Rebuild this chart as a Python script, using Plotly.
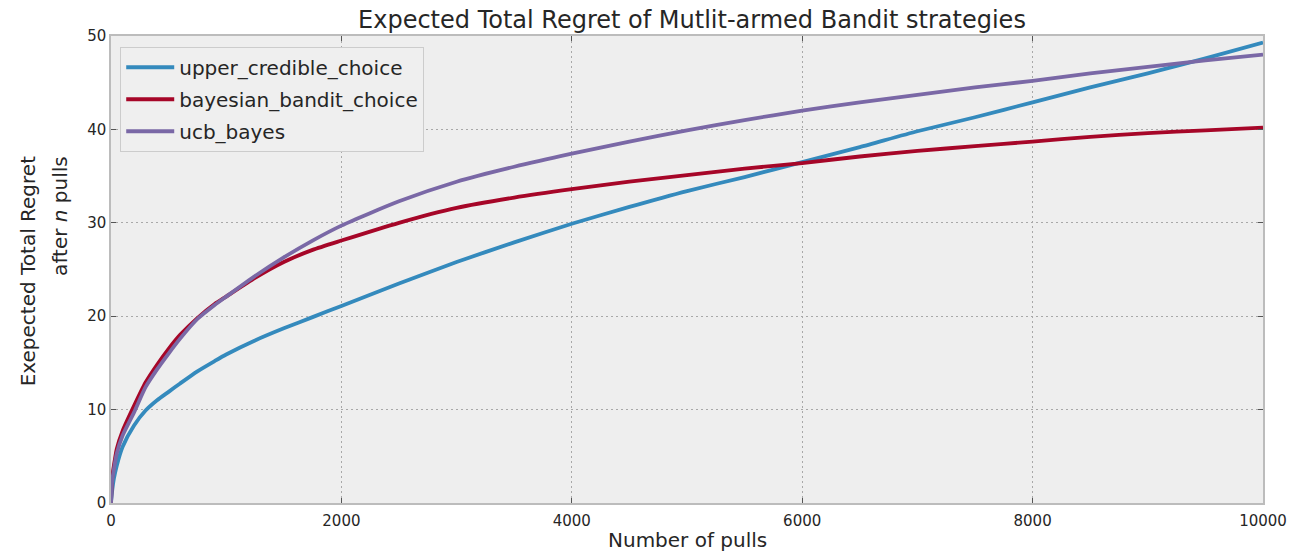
import plotly.graph_objects as go

pulls = [0, 10, 25, 50, 100, 200, 300, 400, 500, 600, 750, 900, 1000, 1250, 1500, 1750, 2000,
         2500, 3000, 3500, 4000, 4500, 5000, 5500, 6000, 6500, 7000, 7500, 8000, 8500, 9000,
         9500, 10000]

upper_credible_choice = [0, 1.3, 2.6, 4.0, 6.0, 8.3, 9.9, 11.0, 11.9, 12.8, 14.1, 15.2, 15.9,
                         17.4, 18.7, 19.9, 21.1, 23.5, 25.8, 27.9, 29.9, 31.7, 33.4, 34.9,
                         36.5, 38.1, 39.8, 41.3, 42.9, 44.5, 46.0, 47.6, 49.3]

bayesian_bandit_choice = [0, 2.7, 4.0, 5.8, 7.7, 10.4, 12.9, 14.8, 16.5, 18.0, 19.8, 21.3, 22.1,
                          24.1, 25.8, 27.1, 28.1, 30.0, 31.6, 32.7, 33.6, 34.4, 35.1, 35.8,
                          36.4, 37.1, 37.7, 38.2, 38.7, 39.2, 39.6, 39.9, 40.2]

ucb_bayes = [0, 2.3, 3.6, 5.3, 7.2, 9.7, 12.4, 14.3, 16.0, 17.6, 19.7, 21.2, 22.1,
             24.3, 26.3, 28.1, 29.7, 32.3, 34.4, 36.0, 37.4, 38.7, 39.9, 41.0,
             42.0, 42.9, 43.7, 44.5, 45.2, 46.0, 46.7, 47.4, 48.0]

series_names = ["upper_credible_choice", "bayesian_bandit_choice", "ucb_bayes"]
series_values = [upper_credible_choice, bayesian_bandit_choice, ucb_bayes]
colors = ["#348ABD", "#A60628", "#7A68A6"]

x_ticks = [0, 2000, 4000, 6000, 8000, 10000]
y_ticks = [0, 10, 20, 30, 40, 50]

FONT = "DejaVu Sans"
TXT = "#262626"

fig = go.Figure()
for name, vals, c in zip(series_names, series_values, colors):
    fig.add_trace(go.Scatter(
        x=pulls, y=vals, name=name, mode="lines", legendgroup=name,
        line=dict(color=c, width=3.8, shape="spline", smoothing=0.6),
    ))

axis_common = dict(
    showgrid=True, gridcolor="#a8a8a8", gridwidth=1, griddash="2px,3px",
    showline=True, linecolor="#bcbcbc", linewidth=1.5, mirror="ticks",
    ticks="inside", ticklen=5, tickcolor="#555555", tickwidth=1,
    zeroline=False, tickfont=dict(family=FONT, size=15, color=TXT),
)

fig.update_xaxes(range=[0, 10000], tickvals=x_ticks, ticktext=[str(v) for v in x_ticks],
                 ticklabelstandoff=3, **axis_common)
fig.update_yaxes(range=[0, 50], tickvals=y_ticks, ticktext=[str(v) for v in y_ticks],
                 **axis_common)

fig.add_annotation(text="Number of pulls", xref="paper", yref="paper",
                   x=0.5, y=-0.080, xanchor="center", yanchor="middle", showarrow=False,
                   font=dict(family=FONT, size=20, color=TXT))
fig.add_annotation(text="Exepected Total Regret", textangle=-90, xref="paper", yref="paper",
                   x=-0.0718, y=0.4966, xanchor="center", yanchor="middle", showarrow=False,
                   font=dict(family=FONT, size=20, color=TXT))
fig.add_annotation(text="after <i>n</i> pulls", textangle=-90, xref="paper", yref="paper",
                   x=-0.0444, y=0.6145, xanchor="center", yanchor="middle", showarrow=False,
                   font=dict(family=FONT, size=20, color=TXT))

fig.update_layout(
    width=1299, height=551,
    margin=dict(l=111, r=26, t=36, b=48),
    paper_bgcolor="white", plot_bgcolor="#eeeeee",
    font=dict(family=FONT, color=TXT),
    title=dict(text="Expected Total Regret of Mutlit-armed Bandit strategies",
               x=0.5327, xanchor="center", y=0.965, yanchor="middle",
               font=dict(family=FONT, size=24, color=TXT)),
    legend=dict(x=0.008, y=0.977, xanchor="left", yanchor="top",
                bgcolor="#efefef", bordercolor="#cccccc", borderwidth=1,
                font=dict(family=FONT, size=20, color=TXT),
                tracegroupgap=3, itemwidth=48),
    showlegend=True,
)

fig.write_html("out.html")
